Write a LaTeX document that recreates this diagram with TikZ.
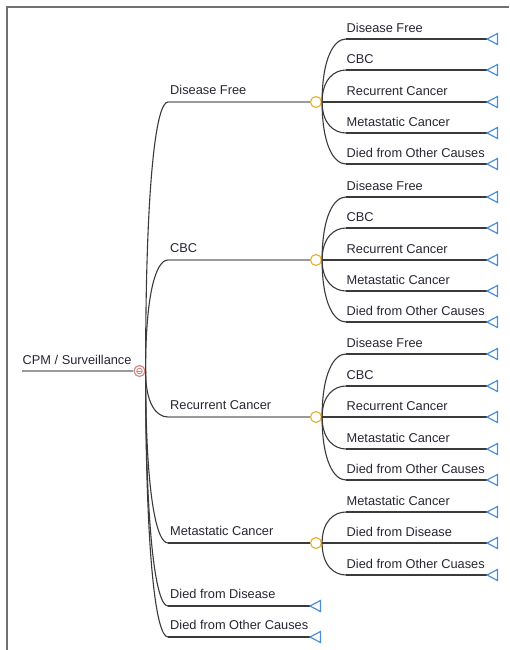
\documentclass[tikz,border=0pt]{standalone}
\usepackage{fontspec}
\setmainfont{Liberation Sans}
\usetikzlibrary{calc}

\definecolor{framegray}{HTML}{707070}
\definecolor{linegray}{HTML}{9A9A9A}
\definecolor{linedark}{HTML}{3A3A3A}
\definecolor{chanceyel}{HTML}{E8B23A}
\definecolor{termblue}{HTML}{4A8FD6}
\definecolor{markovred}{HTML}{D08A8A}
\definecolor{labeltext}{HTML}{262633}

\tikzset{
  branchlabel/.style={anchor=base west, inner sep=0pt, text=labeltext,
    font=\fontsize{12.8}{14}\selectfont},
  hline/.style={draw=linedark, line width=1.3pt},
  hlinelight/.style={draw=linegray, line width=1.5pt},
  curve/.style={draw=linedark, line width=1.1pt},
  chance/.style={circle, draw=chanceyel, fill=white, line width=1.2pt,
    minimum size=11pt, inner sep=0pt},
  markov/.style={circle, draw=markovred, fill=white, line width=1.2pt,
    minimum size=11pt, inner sep=0pt},
  termtri/.style={draw=termblue, fill=white, line width=1.2pt, line join=miter},
  frameline/.style={draw=framegray, line width=2pt},
}

\begin{document}
\begin{tikzpicture}[x=1pt,y=-1pt]
\useasboundingbox (0,0) rectangle (509,650);

% page frame (left and top edges)
\draw[frameline] (7,650) -- (7,7) -- (509,7);

% root branch and Markov node
\coordinate (root) at (22,371);
\node[markov] (mk) at (139.5,371) {};
\draw[markovred, line width=0.9pt] (mk.center) circle (2.8pt);
\draw[markovred, line width=0.9pt] ($(mk.center)+(-2.8,0)$) -- ($(mk.center)+(2.8,0)$);
\draw[hlinelight] (root) -- (mk.west);
\node[branchlabel] (rootlab) at (22.5,364.5) {CPM / Surveillance};

% first-level branches ending in chance nodes
\foreach \g/\y/\lab/\st in {1/102/Disease Free/hlinelight,
                            2/260/CBC/hlinelight,
                            3/417/Recurrent Cancer/hlinelight,
                            4/543/Metastatic Cancer/hline} {
  \coordinate (b\g) at (168,\y);
  \node[chance] (c\g) at (316,\y) {};
  \draw[curve] (mk.east) .. controls ($(mk.east)!0.7!(mk.east |- b\g)$)
                 and ($(b\g)+(-12,0)$) .. (b\g);
  \draw[\st] (b\g) -- (c\g.west);
  \node[branchlabel] at ($(b\g)+(2,-7.5)$) {\lab};
}

% first-level terminal branches
\foreach \g/\y/\lab in {5/606/Died from Disease,
                        6/637/Died from Other Causes} {
  \coordinate (b\g) at (168,\y);
  \coordinate (t\g) at (310,\y);
  \draw[curve] (mk.east) .. controls ($(mk.east)!0.7!(mk.east |- b\g)$)
                 and ($(b\g)+(-12,0)$) .. (b\g);
  \draw[hline] (b\g) -- (t\g);
  \draw[termtri] (t\g) -- ++(10.5,-5.5) -- ++(0,11) -- cycle;
  \node[branchlabel] at ($(b\g)+(2,-7.5)$) {\lab};
}

% second-level terminal branches
\foreach \g/\k/\y/\lab in {
    1/1/39/Disease Free, 1/2/70/CBC, 1/3/102/Recurrent Cancer,
    1/4/133/Metastatic Cancer, 1/5/164/Died from Other Causes,
    2/1/197/Disease Free, 2/2/228/CBC, 2/3/260/Recurrent Cancer,
    2/4/291/Metastatic Cancer, 2/5/322/Died from Other Causes,
    3/1/354/Disease Free, 3/2/386/CBC, 3/3/417/Recurrent Cancer,
    3/4/449/Metastatic Cancer, 3/5/480/Died from Other Causes,
    4/1/512/Metastatic Cancer, 4/2/543/Died from Disease,
    4/3/575/Died from Other Cuases} {
  \coordinate (s\g\k) at (346,\y);
  \coordinate (t\g\k) at (487,\y);
  \draw[curve] (c\g.east) .. controls ($(c\g.east)!0.7!(c\g.east |- s\g\k)$)
                 and ($(s\g\k)+(-12,0)$) .. (s\g\k);
  \draw[hline] (s\g\k) -- (t\g\k);
  \draw[termtri] (t\g\k) -- ++(10.5,-5.5) -- ++(0,11) -- cycle;
  \node[branchlabel] at ($(s\g\k)+(0.5,-6.5)$) {\lab};
}
\end{tikzpicture}
\end{document}
